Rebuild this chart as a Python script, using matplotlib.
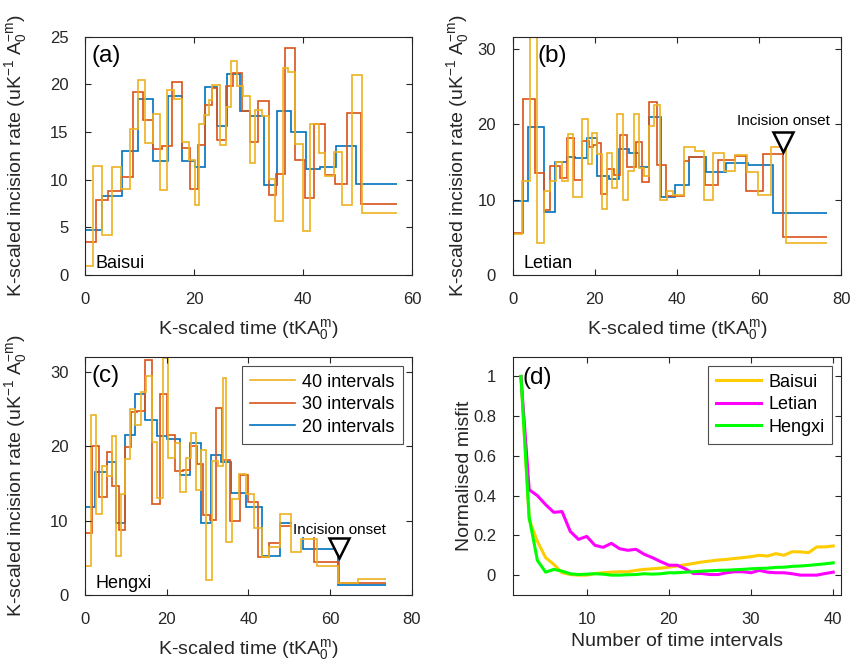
import matplotlib
matplotlib.use("Agg")
import matplotlib.pyplot as plt
from matplotlib.lines import Line2D

plt.rcParams["font.family"] = ["Liberation Sans", "DejaVu Sans"]
plt.rcParams["mathtext.default"] = "regular"

# -----------------------------
# Data
# -----------------------------
# Baisui
BAISUI_T20 = [0, 3.1, 6.7, 9.7, 12.4, 15.3, 17.8, 20.2, 22.0, 24.2, 26.0, 28.5, 30.3, 32.9,
              35.3, 37.8, 40.5, 43.2, 46.1, 49.8, 57.3]
BAISUI_R20 = [4.7, 8.3, 13.0, 18.5, 12.0, 18.8, 12.0, 11.3, 19.7, 15.6, 21.1, 17.2, 16.7, 9.4,
              17.2, 15.0, 11.1, 11.3, 13.5, 9.5]
BAISUI_T30 = [0, 2.0, 4.3, 6.6, 8.8, 10.6, 12.4, 14.1, 16.0, 17.8, 19.2, 20.8, 22.0, 23.3,
              24.3, 25.8, 27.1, 28.8, 30.3, 31.8, 33.7, 35.1, 36.7, 38.6, 40.3, 42.1, 44.0,
              45.8, 48.1, 50.7, 57.3]
BAISUI_R30 = [3.5, 7.9, 8.8, 10.3, 19.2, 16.3, 13.2, 13.5, 20.2, 13.3, 9.0, 13.6, 17.8, 19.6,
              14.2, 19.8, 21.2, 17.2, 13.9, 18.2, 8.4, 10.6, 23.8, 12.1, 8.1, 15.8, 10.5, 9.6,
              17.0, 7.5]
BAISUI_T40 = [0, 1.5, 3.1, 4.9, 6.6, 8.3, 9.7, 11.0, 12.4, 13.7, 15.1, 16.4, 17.8, 19.0, 20.1,
              21.0, 21.9, 22.7, 23.3, 24.8, 25.8, 26.8, 27.9, 28.9, 30.2, 31.2, 32.5, 33.7,
              34.9, 36.3, 37.2, 38.6, 40.0, 41.3, 42.9, 44.1, 45.6, 47.2, 49.0, 50.9, 57.3]
BAISUI_R40 = [0.9, 11.4, 4.2, 11.3, 9.0, 15.3, 20.5, 13.8, 16.9, 8.9, 19.4, 18.5, 14.0, 12.1,
              7.3, 15.8, 16.8, 18.4, 19.9, 13.6, 17.6, 22.4, 19.8, 18.8, 11.8, 17.3, 16.7,
              10.1, 5.7, 21.7, 21.3, 13.7, 4.6, 15.8, 12.8, 10.4, 12.9, 7.3, 21.0, 6.5]

# Letian
LETIAN_T20 = [0, 3.8, 7.5, 10.3, 13.2, 15.2, 18.1, 20.5, 23.4, 25.8, 28.3, 30.7, 33.2, 36.0,
              39.4, 42.9, 47.0, 51.9, 57.2, 63.3, 76.4]
LETIAN_R20 = [9.8, 19.6, 8.4, 15.0, 15.6, 15.5, 18.2, 13.1, 12.7, 16.7, 16.2, 14.3, 20.9, 10.4,
              11.9, 15.6, 13.6, 14.9, 14.6, 8.2]
LETIAN_T30 = [0, 2.6, 5.3, 7.5, 9.1, 11.6, 13.2, 14.8, 16.9, 18.5, 19.5, 20.5, 21.6, 23.0,
              24.6, 26.2, 27.9, 29.9, 31.4, 33.2, 35.2, 37.2, 41.7, 42.8, 46.9, 49.9, 54.0,
              56.8, 60.9, 65.8, 76.4]
LETIAN_R30 = [5.6, 23.4, 13.5, 8.6, 14.5, 12.8, 18.1, 12.6, 17.8, 17.0, 17.3, 17.5, 10.7, 14.0,
              13.2, 18.6, 14.3, 17.7, 12.3, 23.0, 14.6, 10.5, 15.1, 15.6, 12.0, 15.3, 15.8,
              11.2, 16.0, 5.1]
LETIAN_T40 = [0, 2.2, 4.1, 5.9, 7.5, 9.1, 10.5, 12.0, 13.4, 14.6, 16.9, 18.3, 19.3, 20.5, 21.8,
              23.0, 24.2, 25.4, 26.9, 28.0, 29.5, 30.7, 31.9, 33.2, 34.4, 35.9, 37.5, 39.1,
              41.7, 44.4, 46.6, 48.8, 51.5, 54.2, 57.1, 59.7, 62.8, 66.4, 76.4]
LETIAN_R40 = [5.5, 12.5, 31.5, 4.3, 11.2, 12.5, 15.0, 12.5, 18.7, 10.3, 20.7, 14.7, 18.8, 16.0,
              8.8, 16.2, 11.5, 21.3, 10.0, 13.8, 21.3, 14.2, 13.1, 19.8, 22.6, 10.0, 11.2,
              10.6, 17.0, 16.4, 10.0, 16.2, 13.8, 15.9, 13.6, 10.6, 17.0, 4.3]

# Hengxi
HENGXI_T20 = [0, 2.4, 5.3, 7.6, 9.8, 12.2, 14.8, 17.6, 20.1, 23.2, 25.8, 28.5, 30.9, 33.3,
              35.8, 39.4, 43.3, 47.8, 53.3, 62.0, 73.6]
HENGXI_R20 = [11.8, 16.5, 17.9, 9.7, 21.6, 27.0, 23.6, 21.4, 21.0, 16.1, 20.4, 9.7, 18.8, 17.9,
              13.8, 11.8, 5.3, 9.7, 6.2, 1.35]
HENGXI_T30 = [0, 1.6, 3.5, 5.3, 6.7, 8.3, 9.8, 11.2, 12.8, 14.6, 16.5, 18.3, 20.1, 21.9, 24.0,
              25.8, 27.4, 28.9, 30.5, 32.1, 33.6, 35.5, 37.8, 39.8, 42.4, 45.1, 47.8, 56.1,
              62.2, 73.6]
HENGXI_R30 = [8.3, 20.0, 13.2, 19.2, 14.7, 8.8, 19.9, 24.6, 24.8, 31.6, 12.3, 27.0, 21.6, 16.7,
              16.8, 20.1, 17.6, 10.8, 10.1, 25.2, 18.2, 10.0, 16.2, 12.5, 5.1, 7.0, 9.3, 4.5,
              1.6]
HENGXI_T40 = [0, 1.4, 2.7, 4.1, 5.5, 6.5, 7.6, 8.7, 9.8, 11.0, 12.2, 13.6, 14.9, 16.3, 17.6,
              19.1, 20.3, 22.0, 23.3, 24.6, 25.9, 27.2, 28.5, 29.7, 31.1, 32.5, 33.7, 34.6,
              35.9, 37.6, 39.3, 41.3, 43.3, 45.1, 47.8, 50.4, 52.8, 56.7, 62.0, 66.7, 73.6]
HENGXI_R40 = [3.9, 24.2, 10.9, 17.4, 16.0, 21.4, 5.3, 13.6, 18.3, 25.0, 22.9, 27.3, 29.5, 20.6,
              13.0, 31.9, 18.4, 20.4, 13.9, 18.5, 21.8, 14.2, 19.5, 2.0, 18.0, 17.4, 29.2, 7.1,
              12.9, 16.3, 13.6, 9.0, 5.1, 6.4, 10.9, 5.8, 7.5, 3.9, 1.6, 2.1]

# Incision onset markers (time, rate)
LETIAN_ONSET = (65.8, 17.7)
HENGXI_ONSET = (62.2, 6.3)

# Misfit vs number of intervals
N_INTERVALS = list(range(2, 41))
MISFIT_BAISUI = [1.0, 0.28, 0.17, 0.088, 0.054, 0.012, 0.003, 0.0, 0.0, 0.008, 0.012, 0.015,
                 0.017, 0.017, 0.024, 0.029, 0.032, 0.035, 0.04, 0.046, 0.052, 0.059, 0.066,
                 0.071, 0.076, 0.079, 0.084, 0.088, 0.093, 0.10, 0.096, 0.108, 0.10, 0.118,
                 0.117, 0.113, 0.142, 0.142, 0.147]
MISFIT_LETIAN = [1.0, 0.43, 0.40, 0.355, 0.316, 0.32, 0.22, 0.18, 0.195, 0.15, 0.14, 0.16,
                 0.133, 0.125, 0.13, 0.105, 0.088, 0.068, 0.05, 0.05, 0.032, 0.008, 0.008,
                 0.003, 0.003, 0.012, 0.017, 0.017, 0.012, 0.024, 0.015, 0.012, 0.012, 0.007,
                 0.0, 0.0, 0.0, 0.008, 0.015]
MISFIT_HENGXI = [1.0, 0.29, 0.074, 0.015, 0.029, 0.02, 0.007, 0.003, 0.005, 0.007, 0.005, 0.0,
                 0.0, 0.002, 0.003, 0.007, 0.005, 0.007, 0.012, 0.012, 0.015, 0.017, 0.02,
                 0.022, 0.024, 0.025, 0.027, 0.029, 0.032, 0.034, 0.035, 0.039, 0.04, 0.044,
                 0.046, 0.049, 0.053, 0.057, 0.062]

# -----------------------------
# Style
# -----------------------------
C20 = "#0072BD"
C30 = "#D95319"
C40 = "#EDB120"
AX_COL = "#262626"
TICK_FS = 12
LABEL_FS = 14
RATE_LABEL = "K-scaled incision rate (uK$^{-1}$ A$_0^{-m}$)"
TIME_LABEL = "K-scaled time (tKA$_0^{m}$)"


def style_axes(ax):
    ax.tick_params(direction="in", top=True, right=True, length=4, width=0.8,
                   labelsize=TICK_FS, colors=AX_COL, pad=12)
    for sp in ax.spines.values():
        sp.set_color(AX_COL)
        sp.set_linewidth(0.8)


def add_legend(ax, handles, labels):
    leg = ax.legend(handles, labels, loc="upper right", fontsize=13, handlelength=2.5,
                    fancybox=False, framealpha=1, borderaxespad=0.5, labelspacing=0.3,
                    handletextpad=0.4, borderpad=0.45)
    leg.get_frame().set_edgecolor("#4d4d4d")
    leg.get_frame().set_linewidth(0.8)


def rate_panel(ax, t20, r20, t30, r30, t40, r40, letter, letter_x, name, xlim, xticks,
               ylim, yticks, ylab_x):
    ax.stairs(r20, t20, baseline=None, color=C20, lw=1.2)
    ax.stairs(r30, t30, baseline=None, color=C30, lw=1.2)
    ax.stairs(r40, t40, baseline=None, color=C40, lw=1.2)
    ax.set_xlim(*xlim)
    ax.set_ylim(*ylim)
    ax.set_xticks(xticks)
    ax.set_yticks(yticks)
    ax.set_xlabel(TIME_LABEL, fontsize=LABEL_FS, color=AX_COL)
    ax.set_ylabel(RATE_LABEL, fontsize=LABEL_FS, color=AX_COL)
    ax.xaxis.set_label_coords(0.5, -0.175)
    ax.yaxis.set_label_coords(ylab_x, 0.5)
    ax.text(letter_x, 0.965, letter, transform=ax.transAxes, fontsize=17.5, va="top",
            ha="left")
    ax.text(0.032, 0.03, name, transform=ax.transAxes, fontsize=13, va="baseline",
            ha="left")
    style_axes(ax)


def onset(ax, pos, text_y):
    ax.text(pos[0], text_y, "Incision onset", fontsize=11, ha="center", va="center",
            bbox=dict(facecolor="white", edgecolor="none", pad=0.5), zorder=4)
    ax.plot([pos[0]], [pos[1]], marker="v", markersize=14, mfc="white", mec="black",
            mew=1.8, zorder=5)


fig = plt.figure(figsize=(8.56, 6.66), dpi=100)
ax_a = fig.add_axes([0.0993, 0.587, 0.382, 0.358])
ax_b = fig.add_axes([0.599, 0.587, 0.384, 0.358])
ax_c = fig.add_axes([0.0993, 0.1066, 0.382, 0.358])
ax_d = fig.add_axes([0.599, 0.1066, 0.384, 0.358])

rate_panel(ax_a, BAISUI_T20, BAISUI_R20, BAISUI_T30, BAISUI_R30, BAISUI_T40, BAISUI_R40,
           "(a)", 0.02, "Baisui", (0, 60), [0, 20, 40, 60], (0, 25),
           [0, 5, 10, 15, 20, 25], -0.172)
rate_panel(ax_b, LETIAN_T20, LETIAN_R20, LETIAN_T30, LETIAN_R30, LETIAN_T40, LETIAN_R40,
           "(b)", 0.074, "Letian", (0, 80), [0, 20, 40, 60, 80], (0, 31.6),
           [0, 10, 20, 30], -0.128)
rate_panel(ax_c, HENGXI_T20, HENGXI_R20, HENGXI_T30, HENGXI_R30, HENGXI_T40, HENGXI_R40,
           "(c)", 0.02, "Hengxi", (0, 80), [0, 20, 40, 60, 80], (0, 32.1),
           [0, 10, 20, 30], -0.172)

onset(ax_b, LETIAN_ONSET, 20.4)
onset(ax_c, HENGXI_ONSET, 8.8)

handles = [Line2D([], [], color=C40, lw=1.2), Line2D([], [], color=C30, lw=1.2),
           Line2D([], [], color=C20, lw=1.2)]
add_legend(ax_c, handles, ["40 intervals", "30 intervals", "20 intervals"])

# (d) misfit
l1, = ax_d.plot(N_INTERVALS, MISFIT_BAISUI, color="#FFCC00", lw=2.2)
l2, = ax_d.plot(N_INTERVALS, MISFIT_LETIAN, color="#FF00FF", lw=2.2)
l3, = ax_d.plot(N_INTERVALS, MISFIT_HENGXI, color="#00FF00", lw=2.2)
ax_d.set_xlim(1, 41)
ax_d.set_ylim(-0.1, 1.1)
ax_d.set_xticks([10, 20, 30, 40])
ax_d.set_yticks([0, 0.2, 0.4, 0.6, 0.8, 1])
ax_d.set_yticklabels(["0", "0.2", "0.4", "0.6", "0.8", "1"])
ax_d.set_xlabel("Number of time intervals", fontsize=LABEL_FS, color=AX_COL)
ax_d.set_ylabel("Normalised misfit", fontsize=LABEL_FS, color=AX_COL)
ax_d.xaxis.set_label_coords(0.5, -0.16)
ax_d.yaxis.set_label_coords(-0.12, 0.5)
ax_d.text(0.031, 0.955, "(d)", transform=ax_d.transAxes, fontsize=17.5, va="top", ha="left")
add_legend(ax_d, [l1, l2, l3], ["Baisui", "Letian", "Hengxi"])
style_axes(ax_d)

fig.savefig("out.png", dpi=100)
